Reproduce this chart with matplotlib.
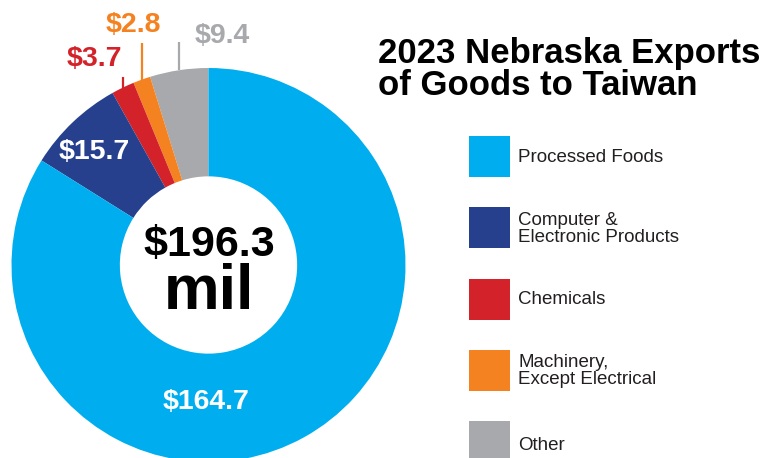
import matplotlib
matplotlib.use("Agg")
import matplotlib.pyplot as plt
import numpy as np
from matplotlib.patches import Rectangle

# ---- data ----
pie_categories = ["Other", "Machinery, Except Electrical", "Chemicals",
                  "Computer & Electronic Products", "Processed Foods"]
pie_values = [9.4, 2.8, 3.7, 15.7, 164.7]
pie_colors = ["#A7A9AC", "#F58220", "#D3222A", "#26408E", "#00AEEF"]
value_labels = ["$9.4", "$2.8", "$3.7", "$15.7", "$164.7"]

legend_labels = ["Processed Foods", "Computer &\nElectronic Products", "Chemicals",
                 "Machinery,\nExcept Electrical", "Other"]
legend_colors = ["#00AEEF", "#26408E", "#D3222A", "#F58220", "#A7A9AC"]

total_label = "$196.3"
total_unit = "mil"
title_lines = ["2023 Nebraska Exports", "of Goods to Taiwan"]

W, H = 771, 458
FONT = "Liberation Sans"

fig = plt.figure(figsize=(W / 100, H / 100), dpi=100)
ax = fig.add_axes([0, 0, 1, 1])

cx, cy, R = 208.5, H - 265, 197
wedges, _ = ax.pie(pie_values, colors=pie_colors, startangle=90, counterclock=True,
                   radius=R, center=(cx, cy), frame=True,
                   wedgeprops=dict(width=R * 0.55, linewidth=0))
ax.set_xlim(0, W)
ax.set_ylim(0, H)
ax.set_aspect("equal")
ax.axis("off")

# leader lines + outer labels for small slices
outer = {1: (H - 43, 133, H - 25), 2: (H - 77, 94, H - 59), 0: (H - 42, 222, H - 36)}
for i, (ytop, tx, ty) in outer.items():
    w = wedges[i]
    ang = np.deg2rad((w.theta1 + w.theta2) / 2)
    x0 = cx + R * np.cos(ang)
    y0 = cy + R * np.sin(ang)
    ax.plot([x0, x0], [y0, ytop], color=pie_colors[i], lw=1.6, solid_capstyle="butt")
    ax.text(tx, ty, value_labels[i], color=pie_colors[i], fontsize=20.5,
            fontweight="bold", family=FONT, ha="center", va="center")

ax.text(94, H - 152, value_labels[3], color="white", fontsize=20.5, fontweight="bold",
        family=FONT, ha="center", va="center")
ax.text(206, H - 402, value_labels[4], color="white", fontsize=20.5, fontweight="bold",
        family=FONT, ha="center", va="center")

# center total
ax.text(209, H - 245, total_label, color="black", fontsize=31, fontweight="bold",
        family=FONT, ha="center", va="center")
ax.text(209, H - 309, total_unit, color="black", fontsize=45, fontweight="bold",
        family=FONT, ha="center", va="baseline")

# title
ax.text(378, H - 63, title_lines[0], color="black", fontsize=25, fontweight="bold",
        family=FONT, ha="left", va="baseline")
ax.text(378, H - 95, title_lines[1], color="black", fontsize=25, fontweight="bold",
        family=FONT, ha="left", va="baseline")

# legend
sq = 41
top0, step = 136, 71.25
for k, (lab, col) in enumerate(zip(legend_labels, legend_colors)):
    top = top0 + k * step
    ax.add_patch(Rectangle((469, H - top - sq), sq, sq, facecolor=col, edgecolor="none"))
    yc = top + sq / 2 + 1
    if k == 4:
        yc = top + 25
    ax.text(518, H - yc, lab, color="#231F20", fontsize=13.5, family=FONT,
            ha="left", va="center", linespacing=1.0)

fig.savefig("out.png", dpi=100)
